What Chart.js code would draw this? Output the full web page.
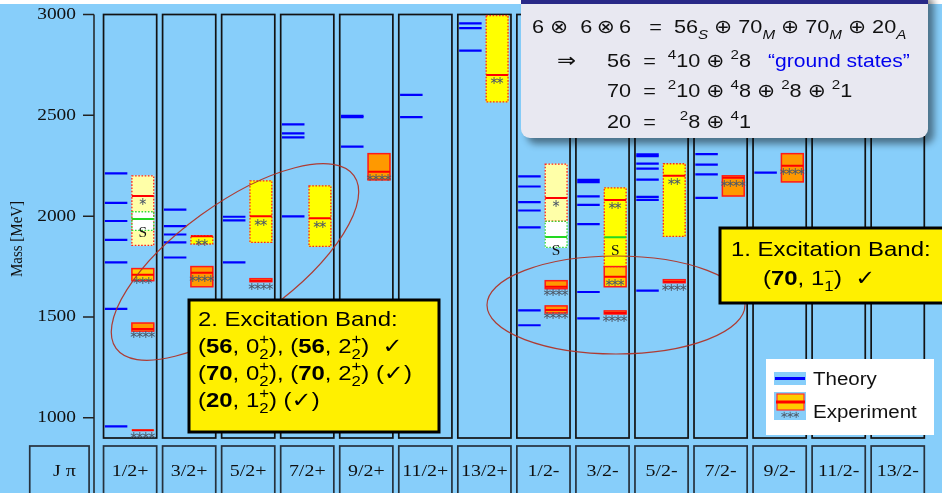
<!DOCTYPE html>
<html>
<head>
<meta charset="utf-8">
<script src="https://cdn.jsdelivr.net/npm/chart.js@4.4.1/dist/chart.umd.min.js"></script>
<style>
  html, body { margin: 0; padding: 0; background: #ffffff; overflow: hidden; }
  canvas { display: block; }
</style>
</head>
<body>
<canvas id="spectrum" width="942" height="493"></canvas>
<script>
// J^pi columns of the nucleon spectrum
const jpLabels = ['1/2+', '3/2+', '5/2+', '7/2+', '9/2+', '11/2+', '13/2+',
                  '1/2-', '3/2-', '5/2-', '7/2-', '9/2-', '11/2-', '13/2-'];
const massTicks = [1000, 1500, 2000, 2500, 3000];

// model (theory) masses in MeV, one list per column
const theoryMasses = [
  [958, 1540, 1771, 1882, 1976, 2066, 2212],
  [1795, 1870, 1909, 1951, 2032],
  [1771, 1979, 1997],
  [1999, 2391, 2411, 2455],
  [2345, 2491, 2497],
  [2491, 2601],
  [2821, 2932, 2956],
  [1459, 1533, 1944, 2028, 2070, 2147, 2197],
  [1493, 1624, 1961, 2056, 2098, 2169, 2180],
  [1631, 2081, 2096, 2181, 2236, 2261, 2298, 2306],
  [2091, 2207, 2256, 2308],
  [2216],
  [],
  []
];

// experimental resonances: column index, mass, mass range, rating
const expColumn = [0, 0, 0, 0, 0, 1, 1, 2, 2, 3, 4, 6, 7, 7, 7, 7, 8, 8, 8, 8, 9, 9, 10, 11];
const expMass   = [939, 1440, 1710, 2100, 1986, 1720, 1900, 1680, 2000, 1990, 2220, 2700,
                   1535, 1650, 2090, 1897, 1520, 1700, 2080, 1895, 1675, 2200, 2190, 2250];
const expLow    = [938, 1430, 1680, 1855, 1930, 1650, 1862, 1675, 1870, 1850, 2180, 2567,
                   1520, 1640, 1975, 1845, 1515, 1650, 1750, 1895, 1670, 1900, 2100, 2170];
const expHigh   = [940, 1470, 1740, 2200, 2022, 1750, 1903, 1690, 2175, 2150, 2310, 2995,
                   1555, 1680, 2258, 1974, 1530, 1750, 2140, 1895, 1685, 2260, 2200, 2310];
const expRating = ['****', '****', '***', '*', 'S', '****', '**', '****', '**', '**', '****', '**',
                   '****', '****', '*', 'S', '****', '***', '**', 'S', '****', '**', '****', '****'];

const SANS = '"Liberation Sans", Arial, "DejaVu Sans", sans-serif';
const SERIF = '"Liberation Serif", "Times New Roman", "DejaVu Serif", serif';
const SX = 1.14;            // text is drawn slightly wide
const BG = '#87cefa';

const ratingFill = { '****': '#ff9900', '***': '#ffcc00', '**': '#ffff00', '*': '#ffffa8', 'S': '#ffffff' };

const theoryPoints = [];
theoryMasses.forEach((list, c) => list.forEach(m => theoryPoints.push({ x: c + 0.2125, y: m })));
const expPoints = expMass.map((m, k) => ({ x: expColumn[k] + 0.6667, y: [expLow[k], expHigh[k]] }));

function wideText(ctx, text, x, y, font, align, color, sx) {
  ctx.save();
  ctx.font = font;
  ctx.fillStyle = color;
  ctx.textAlign = align;
  ctx.translate(x, y);
  ctx.scale(sx, 1);
  ctx.fillText(text, 0, 0);
  ctx.restore();
}

// text with bold parts, sub- and superscripts
function rich(ctx, x, y, parts, size, color) {
  ctx.save();
  ctx.translate(x, y);
  ctx.scale(SX, 1);
  ctx.textAlign = 'left';
  ctx.textBaseline = 'alphabetic';
  const f = (s, b, i) => (i ? 'italic ' : '') + (b ? 'bold ' : '') + s + 'px ' + SANS;
  let cx = 0;
  for (const p of parts) {
    ctx.fillStyle = p.c || color;
    if (p.t === undefined) {
      const s = size * 0.7;
      ctx.font = f(s, false, p.i);
      let w = 0;
      if (p.sup !== undefined) { ctx.fillText(p.sup, cx, -size * 0.42); w = Math.max(w, ctx.measureText(p.sup).width); }
      if (p.sub !== undefined) { ctx.fillText(p.sub, cx, size * 0.3); w = Math.max(w, ctx.measureText(p.sub).width); }
      cx += w;
    } else {
      ctx.font = f(size, p.b, p.i);
      ctx.fillText(p.t, cx, 0);
      cx += ctx.measureText(p.t).width;
    }
  }
  ctx.restore();
}

const spectrumPlugin = {
  id: 'spectrum',
  beforeDraw(chart) {
    const ctx = chart.ctx;
    ctx.save();
    ctx.fillStyle = BG;
    ctx.fillRect(0, 0, chart.width, chart.height);
    ctx.fillStyle = '#ffffff';
    ctx.fillRect(0, 0, chart.width, 4);
    ctx.restore();
  },
  beforeDatasetsDraw(chart) {
    const ctx = chart.ctx;
    const { x, y } = chart.scales;
    const top = y.getPixelForValue(3000), bottom = y.getPixelForValue(900);
    const left = chart.chartArea.left;
    ctx.save();
    // column frames
    ctx.strokeStyle = '#121212';
    ctx.lineWidth = 1.7;
    jpLabels.forEach((lab, i) => {
      const l = x.getPixelForValue(i), r = x.getPixelForValue(i + 0.9);
      ctx.strokeRect(l, top, r - l, bottom - top);
    });
    // label row
    const rowTop = bottom + 8, rowBot = chart.height + 3;
    ctx.strokeStyle = '#26313c';
    jpLabels.forEach((lab, i) => {
      const l = x.getPixelForValue(i), r = x.getPixelForValue(i + 0.9);
      ctx.strokeRect(l, rowTop, r - l, rowBot - rowTop);
      wideText(ctx, lab, (l + r) / 2, rowTop + 30, '17.5px ' + SERIF, 'center', '#111', SX);
    });
    const jl = x.getPixelForValue(-1.25), jr = x.getPixelForValue(-0.245);
    ctx.strokeRect(jl, rowTop, jr - jl, rowBot - rowTop);
    wideText(ctx, 'J π', (jl + jr) / 2 + 5, rowTop + 30, '17.5px ' + SERIF, 'center', '#111', SX);
    // mass axis
    ctx.strokeStyle = '#222';
    ctx.lineWidth = 1.5;
    ctx.beginPath();
    ctx.moveTo(left, top);
    ctx.lineTo(left, chart.height);
    massTicks.forEach(v => {
      const py = y.getPixelForValue(v);
      ctx.moveTo(left - 11, py);
      ctx.lineTo(left, py);
    });
    ctx.stroke();
    ctx.textBaseline = 'middle';
    massTicks.forEach(v => {
      wideText(ctx, String(v), left - 18, y.getPixelForValue(v), '17px ' + SERIF, 'right', '#111', SX);
    });
    ctx.translate(18, 239);
    ctx.rotate(-Math.PI / 2);
    ctx.scale(1, SX);
    ctx.font = '15px ' + SERIF;
    ctx.fillStyle = '#111';
    ctx.textAlign = 'center';
    ctx.fillText('Mass [MeV]', 0, 0);
    ctx.restore();
  },
  afterDatasetsDraw(chart) {
    const ctx = chart.ctx;
    const { x, y } = chart.scales;
    const a = chart.chartArea;
    ctx.save();
    ctx.beginPath();
    ctx.rect(a.left, a.top, a.right - a.left, a.bottom - a.top);
    ctx.clip();
    expMass.forEach((m, k) => {
      const c = expColumn[k], r = expRating[k];
      const l = x.getPixelForValue(c + 0.48), rt = x.getPixelForValue(c + 0.85);
      const yt = y.getPixelForValue(expHigh[k]), yb = y.getPixelForValue(expLow[k]);
      const ym = y.getPixelForValue(m);
      const dotted = (r === '**' || r === '*' || r === 'S');
      if (yb - yt > 0.5) {
        ctx.lineWidth = dotted ? 1.3 : 1.5;
        ctx.strokeStyle = r === 'S' ? '#33dd33' : (dotted ? '#ff2020' : '#ff1a1a');
        ctx.setLineDash(dotted ? [1.6, 1.6] : []);
        ctx.strokeRect(l, yt, rt - l, yb - yt);
        ctx.setLineDash([]);
      }
      ctx.lineWidth = 2;
      ctx.strokeStyle = r === 'S' ? '#22d822' : '#ff0000';
      ctx.beginPath();
      ctx.moveTo(l, ym);
      ctx.lineTo(rt, ym);
      ctx.stroke();
      const cx = (l + rt) / 2;
      if (r === 'S') {
        wideText(ctx, 'S', cx, ym + 14, '14px ' + SERIF, 'center', '#111', 1.1);
      } else {
        ctx.font = '11px "DejaVu Sans", sans-serif';
        ctx.fillStyle = '#4e5968';
        ctx.textAlign = 'center';
        ctx.textBaseline = 'middle';
        const n = r.length;
        for (let s = 0; s < n; s++) {
          ctx.fillText('∗', cx + (s - (n - 1) / 2) * 6, ym + 6.5);
        }
      }
    });
    ctx.restore();
  },
  afterDraw(chart) {
    const ctx = chart.ctx;
    ctx.save();
    // highlighted groups of states
    ctx.strokeStyle = 'rgba(176, 52, 40, 0.95)';
    ctx.lineWidth = 1.2;
    ctx.beginPath();
    ctx.ellipse(235, 262, 147, 58, -36 * Math.PI / 180, 0, Math.PI * 2);
    ctx.stroke();
    ctx.beginPath();
    ctx.ellipse(616, 305, 129, 49, 0, 0, Math.PI * 2);
    ctx.stroke();

    // SU(6) multiplet box
    ctx.save();
    ctx.shadowColor = 'rgba(0,0,0,0.45)';
    ctx.shadowBlur = 7;
    ctx.shadowOffsetX = 6;
    ctx.shadowOffsetY = 6;
    ctx.fillStyle = '#e8e8f1';
    ctx.beginPath();
    ctx.roundRect(521, -10, 407, 148, 9);
    ctx.fill();
    ctx.restore();
    ctx.fillStyle = '#282887';
    ctx.fillRect(521, 0, 407, 4);
    const fs = 19;
    const thin = '\u2009';
    rich(ctx, 532, 33, [
      { t: '6 ' }, { t: '⊗' }, { t: '  6' + thin }, { t: '⊗' }, { t: thin + '6   =  56' }, { sub: 'S', i: true },
      { t: ' ⊕ 70' }, { sub: 'M', i: true }, { t: ' ⊕ 70' }, { sub: 'M', i: true }, { t: ' ⊕ 20' }, { sub: 'A', i: true }
    ], fs, '#111');
    rich(ctx, 557, 67, [{ t: '⇒' }], 20, '#111');
    rich(ctx, 607, 67, [{ t: '56  =  ' }, { sup: '4' }, { t: '10 ⊕ ' }, { sup: '2' }, { t: '8' }], fs, '#111');
    rich(ctx, 768, 67, [{ t: '“ground states”' }], 18.5, '#0000ee');
    rich(ctx, 607, 97, [{ t: '70  =  ' }, { sup: '2' }, { t: '10 ⊕ ' }, { sup: '4' }, { t: '8 ⊕ ' }, { sup: '2' }, { t: '8 ⊕ ' }, { sup: '2' }, { t: '1' }], fs, '#111');
    rich(ctx, 607, 128, [{ t: '20  =    ' }, { sup: '2' }, { t: '8 ⊕ ' }, { sup: '4' }, { t: '1' }], fs, '#111');

    // excitation band boxes
    const bandBox = (bx, by, bw, bh) => {
      ctx.fillStyle = '#fff000';
      ctx.fillRect(bx, by, bw, bh);
      ctx.strokeStyle = '#000';
      ctx.lineWidth = 3;
      ctx.strokeRect(bx, by, bw, bh);
    };
    bandBox(720, 228, 230, 75);
    rich(ctx, 731, 256, [{ t: '1. Excitation Band:' }], 21, '#000');
    rich(ctx, 763, 285, [{ t: '(' }, { t: '70', b: true }, { t: ', 1' }, { sup: '−', sub: '1' }, { t: ')  ✓' }], 21, '#000');

    bandBox(189, 300, 250, 132);
    const st = { sup: '+', sub: '2' };
    rich(ctx, 198, 326, [{ t: '2. Excitation Band:' }], 21, '#000');
    rich(ctx, 198, 353, [{ t: '(' }, { t: '56', b: true }, { t: ', 0' }, st, { t: '), (' }, { t: '56', b: true }, { t: ', 2' }, st, { t: ')  ✓' }], 21, '#000');
    rich(ctx, 198, 380, [{ t: '(' }, { t: '70', b: true }, { t: ', 0' }, st, { t: '), (' }, { t: '70', b: true }, { t: ', 2' }, st, { t: ') (✓)' }], 21, '#000');
    rich(ctx, 198, 407, [{ t: '(' }, { t: '20', b: true }, { t: ', 1' }, st, { t: ') (✓)' }], 21, '#000');

    // legend
    ctx.fillStyle = '#ffffff';
    ctx.fillRect(766, 359, 168, 76);
    ctx.fillStyle = BG;
    ctx.fillRect(774, 372, 32, 13);
    ctx.strokeStyle = '#0000ff';
    ctx.lineWidth = 3;
    ctx.beginPath(); ctx.moveTo(775, 378.5); ctx.lineTo(805, 378.5); ctx.stroke();
    ctx.fillStyle = BG;
    ctx.fillRect(774, 392, 32, 28);
    ctx.fillStyle = ratingFill['***'];
    ctx.fillRect(777, 394, 27, 16);
    ctx.strokeStyle = '#ff3030';
    ctx.lineWidth = 1.2;
    ctx.strokeRect(777, 394, 27, 16);
    ctx.strokeStyle = '#ff0000';
    ctx.lineWidth = 3;
    ctx.beginPath(); ctx.moveTo(776, 402); ctx.lineTo(805, 402); ctx.stroke();
    ctx.font = '10px "DejaVu Sans", sans-serif';
    ctx.fillStyle = '#4e5968';
    ctx.textAlign = 'center';
    ctx.textBaseline = 'middle';
    for (let s = 0; s < 3; s++) ctx.fillText('∗', 784 + s * 6, 415);
    const ds = chart.data.datasets;
    rich(ctx, 813, 385, [{ t: ds[0].label }], 18, '#111');
    rich(ctx, 813, 418, [{ t: ds[1].label }], 18, '#111');
    ctx.restore();
  }
};

new Chart(document.getElementById('spectrum'), {
  type: 'scatter',
  data: {
    datasets: [
      {
        label: 'Theory',
        data: theoryPoints,
        pointStyle: 'line',
        pointRadius: 11.25,
        pointHoverRadius: 11.25,
        borderColor: '#0000ff',
        borderWidth: 2.2,
        backgroundColor: '#0000ff'
      },
      {
        type: 'bar',
        label: 'Experiment',
        data: expPoints,
        barThickness: 22,
        borderWidth: 0,
        backgroundColor: expRating.map(r => ratingFill[r])
      }
    ]
  },
  options: {
    responsive: false,
    animation: false,
    devicePixelRatio: 1,
    layout: { padding: { left: 94, right: 0, top: 14.5, bottom: 55 } },
    scales: {
      x: { type: 'linear', min: -0.1617, max: 13.972, offset: false, display: false },
      y: { type: 'linear', min: 900, max: 3000, display: false }
    },
    plugins: {
      legend: { display: false },
      tooltip: { enabled: false }
    },
    events: []
  },
  plugins: [spectrumPlugin]
});
</script>
</body>
</html>
